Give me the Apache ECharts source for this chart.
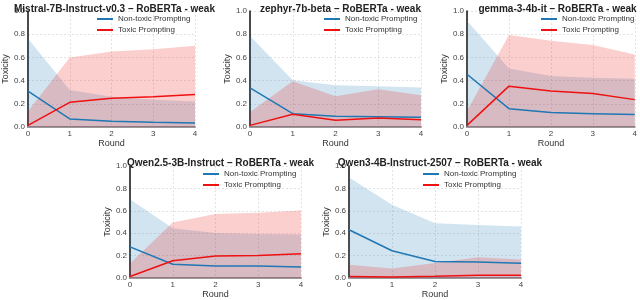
<!DOCTYPE html>
<html><head><meta charset="utf-8">
<script src="https://cdn.jsdelivr.net/npm/echarts@6/dist/echarts.min.js"></script>
<style>html,body{margin:0;padding:0;background:#fff}#c{width:640px;height:300px}</style>
</head><body><div id="c"></div>
<script>
const rounds = [0, 1, 2, 3, 4];
const yTicks = [0, 0.2, 0.4, 0.6, 0.8, 1.0];
const titles = [
  'Mistral-7B-Instruct-v0.3 \u2013 RoBERTa - weak',
  'zephyr-7b-beta \u2013 RoBERTa - weak',
  'gemma-3-4b-it \u2013 RoBERTa - weak',
  'Qwen2.5-3B-Instruct \u2013 RoBERTa - weak',
  'Qwen3-4B-Instruct-2507 \u2013 RoBERTa - weak'
];
const nonToxicMean = [
  [0.31, 0.07, 0.05, 0.04, 0.035],
  [0.337, 0.115, 0.092, 0.089, 0.084],
  [0.455, 0.158, 0.124, 0.115, 0.107],
  [0.279, 0.124, 0.109, 0.109, 0.098],
  [0.431, 0.244, 0.149, 0.144, 0.132]
];
const nonToxicUpper = [
  [0.76, 0.32, 0.26, 0.235, 0.22],
  [0.784, 0.403, 0.36, 0.352, 0.34],
  [0.916, 0.504, 0.44, 0.424, 0.415],
  [0.704, 0.445, 0.402, 0.394, 0.388],
  [0.897, 0.655, 0.489, 0.474, 0.46]
];
const toxicMean = [
  [0.014, 0.213, 0.248, 0.26, 0.28],
  [0.014, 0.11, 0.058, 0.078, 0.063],
  [0.014, 0.352, 0.311, 0.288, 0.236],
  [0.014, 0.155, 0.198, 0.201, 0.218],
  [0.014, 0.009, 0.017, 0.026, 0.026]
];
const toxicUpper = [
  [0.135, 0.60, 0.65, 0.67, 0.70],
  [0.13, 0.395, 0.265, 0.325, 0.274],
  [0.138, 0.793, 0.744, 0.706, 0.625],
  [0.13, 0.497, 0.572, 0.583, 0.603],
  [0.12, 0.086, 0.135, 0.187, 0.167]
];

const BLUE = '#1f77b4', RED = '#ee1111';
const FONT = 'Liberation Sans, Arial, sans-serif';
const boxes = [
  {left: 24, top: 11, width: 171, height: 116},
  {left: 250, top: 11, width: 171, height: 116},
  {left: 467, top: 11, width: 171, height: 116},
  {left: 130, top: 166, width: 171, height: 116},
  {left: 349, top: 166, width: 172, height: 116}
];
const legendPos = [[97, 14], [324, 14], [541, 14], [203, 169], [423, 169]];
const titleTop = [-1, -1, -1, 153, 153];

const grid = [], xAxis = [], yAxis = [], series = [], title = [], legend = [];
const pairs = (ys) => rounds.map((r, i) => [r, ys[i]]);
boxes.forEach((b, k) => {
  grid.push(Object.assign({}, b, {containLabel: false}));
  title.push({text: titles[k], left: b.left + b.width / 2, top: titleTop[k], textAlign: 'center',
    textStyle: {fontSize: 10, fontWeight: 'bold', color: '#222', fontFamily: FONT}});
  xAxis.push({type: 'value', gridIndex: k, min: 0, max: 4, interval: 1,
    name: 'Round', nameLocation: 'middle', nameGap: 10,
    nameTextStyle: {fontSize: 9, color: '#333', fontFamily: FONT},
    axisLine: {show: true, lineStyle: {color: '#999', width: 2}},
    axisTick: {show: false},
    axisLabel: {fontSize: 8, color: '#444', margin: 3, fontFamily: FONT},
    splitLine: {show: true, lineStyle: {color: '#dcdcdc', type: [2, 2], width: 0.8}}});
  yAxis.push({type: 'value', gridIndex: k, min: 0, max: 1, interval: 0.2,
    name: 'Toxicity', nameLocation: 'middle', nameGap: 17,
    nameTextStyle: {fontSize: 9, color: '#333', fontFamily: FONT},
    axisLine: {show: true, lineStyle: {color: '#111', width: 1.5}},
    axisTick: {show: false},
    axisLabel: {fontSize: 8, color: '#444', margin: 3, formatter: v => v.toFixed(1), fontFamily: FONT},
    splitLine: {show: true, lineStyle: {color: '#dcdcdc', type: [2, 2], width: 0.8}}});
  series.push({type: 'line', name: 'nt-band', xAxisIndex: k, yAxisIndex: k, data: pairs(nonToxicUpper[k]),
    symbol: 'none', silent: true, lineStyle: {width: 0, opacity: 0},
    areaStyle: {color: 'rgba(31,119,180,0.2)', opacity: 1}, z: 1});
  series.push({type: 'line', name: 't-band', xAxisIndex: k, yAxisIndex: k, data: pairs(toxicUpper[k]),
    symbol: 'none', silent: true, lineStyle: {width: 0, opacity: 0},
    areaStyle: {color: 'rgba(238,17,17,0.2)', opacity: 1}, z: 2});
  series.push({type: 'line', name: 'Non-toxic Prompting', xAxisIndex: k, yAxisIndex: k, data: pairs(nonToxicMean[k]),
    symbol: 'none', lineStyle: {color: BLUE, width: 1.5}, itemStyle: {color: BLUE}, z: 3});
  series.push({type: 'line', name: 'Toxic Prompting', xAxisIndex: k, yAxisIndex: k, data: pairs(toxicMean[k]),
    symbol: 'none', lineStyle: {color: RED, width: 1.5}, itemStyle: {color: RED}, z: 4});
  legend.push({left: legendPos[k][0], top: legendPos[k][1], orient: 'vertical',
    data: ['Non-toxic Prompting', 'Toxic Prompting'], icon: 'rect', itemWidth: 16, itemHeight: 2,
    itemGap: 1, padding: 0, selectedMode: false,
    textStyle: {fontSize: 8, color: '#333', lineHeight: 10, fontFamily: FONT}});
});

const chart = echarts.init(document.getElementById('c'), null, {renderer: 'canvas'});
chart.setOption({animation: false, title, grid, xAxis, yAxis, series, legend});
</script></body></html>
